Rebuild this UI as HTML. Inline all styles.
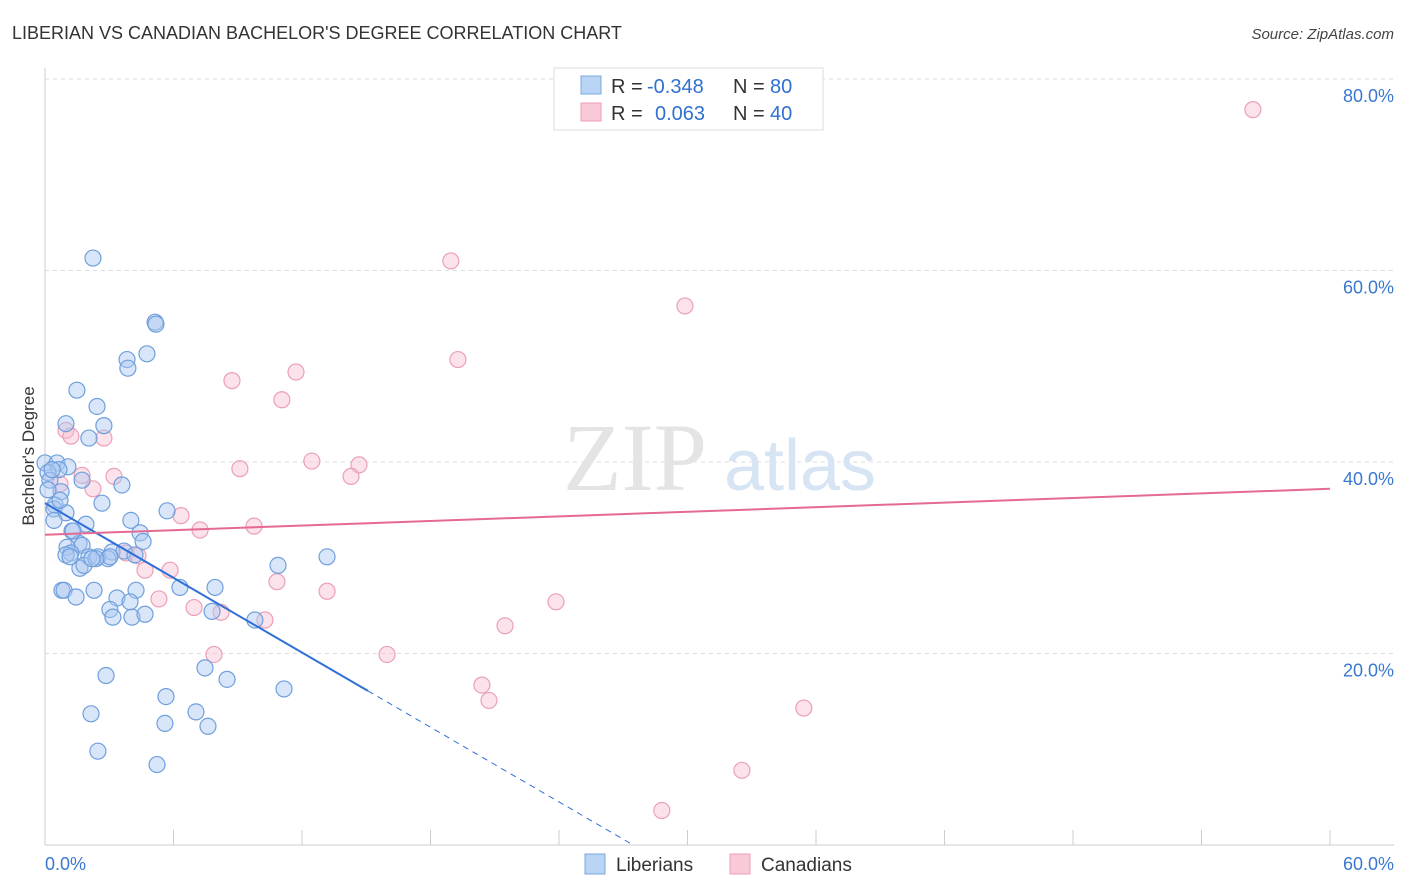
<!DOCTYPE html>
<html><head><meta charset="utf-8">
<style>
body{margin:0;background:#fff;font-family:"Liberation Sans",sans-serif;}
svg{display:block}
</style></head>
<body>
<svg id="chart" width="1406" height="892" viewBox="0 0 1406 892" xmlns="http://www.w3.org/2000/svg">
<text x="12" y="39" font-size="18" fill="#333" font-family="Liberation Sans, sans-serif">LIBERIAN VS CANADIAN BACHELOR'S DEGREE CORRELATION CHART</text>
<text x="1394" y="39" font-size="15" fill="#444" text-anchor="end" font-style="italic" font-family="Liberation Sans, sans-serif">Source: ZipAtlas.com</text>
<g id="grid"></g>
<g>
<text x="635" y="490" font-size="96" fill="#e4e4e4" text-anchor="middle" font-family="Liberation Serif, serif">ZIP</text>
<text x="800" y="490" font-size="72" fill="#d6e4f4" text-anchor="middle" font-family="Liberation Sans, sans-serif">atlas</text>
</g>
<g id="axes"></g>
<g id="marks"></g>
<text transform="translate(34,456) rotate(-90)" font-size="17" fill="#333" text-anchor="middle" font-family="Liberation Sans, sans-serif">Bachelor's Degree</text>
<g font-size="20">
<rect x="554" y="68" width="269" height="62" fill="#fff" stroke="#ddd"/>
<rect x="581" y="76" width="20" height="18" fill="#b9d4f5" stroke="#7aa8e0"/>
<rect x="581" y="103" width="20" height="18" fill="#f8c9d6" stroke="#eba0b6"/>
<text x="611" y="93" fill="#333">R =</text>
<text x="647" y="93" fill="#3070d0">-0.348</text>
<text x="733" y="93" fill="#333">N =</text>
<text x="770" y="93" fill="#3070d0">80</text>
<text x="611" y="120" fill="#333">R =</text>
<text x="655" y="120" fill="#3070d0">0.063</text>
<text x="733" y="120" fill="#333">N =</text>
<text x="770" y="120" fill="#3070d0">40</text>
</g>
<g>
<rect x="585" y="854" width="20" height="20" fill="#b9d4f5" stroke="#7aa8e0"/>
<text x="616" y="871" font-size="19" fill="#333">Liberians</text>
<rect x="730" y="854" width="20" height="20" fill="#f8c9d6" stroke="#eba0b6"/>
<text x="761" y="871" font-size="19" fill="#333">Canadians</text>
</g>
</svg>
<script>
const blueX=[2.24,5.14,5.18,4.76,3.83,3.87,1.49,2.43,0.98,2.75,2.05,0,0.56,1.07,0.65,0.14,1.73,3.59,0.23,0.75,2.66,0.47,5.70,0.42,0.98,0.42,4.01,1.91,1.26,4.44,4.58,1.59,1.03,1.73,1.21,0.98,2.05,2.47,3.13,3.69,4.20,2.94,13.17,10.88,1.63,1.82,0.79,0.89,1.45,2.29,4.25,7.94,6.30,3.36,3.97,3.03,3.17,4.06,4.67,7.80,9.80,2.85,7.47,8.50,5.65,11.16,2.15,7.05,5.60,7.61,2.47,5.23,1.31,0.70,0.33,3.03,1.17,2.38,2.19,0.14];
const blueY=[61.3,54.6,54.4,51.3,50.7,49.8,47.5,45.8,44.0,43.8,42.5,39.9,39.9,39.5,39.2,38.9,38.1,37.6,38.1,36.9,35.7,35.5,34.9,35.1,34.7,33.9,33.9,33.5,32.8,32.6,31.7,31.5,31.1,31.3,30.5,30.3,30.1,30.1,30.6,30.7,30.3,29.9,30.1,29.2,28.9,29.2,26.6,26.6,25.9,26.6,26.6,26.9,26.9,25.8,25.4,24.6,23.8,23.8,24.1,24.4,23.5,17.7,18.5,17.3,15.5,16.3,13.7,13.9,12.7,12.4,9.8,8.4,32.8,36.0,39.2,30.1,30.1,29.9,29.9,37.1];
const pinkX=[56.4,18.95,29.88,19.28,11.72,8.73,11.06,0.98,2.75,1.21,12.46,9.10,14.66,14.29,1.73,3.22,0.70,2.24,6.35,9.76,7.24,3.78,4.34,4.67,5.84,10.83,13.17,5.32,6.96,8.22,10.27,23.86,21.48,15.97,7.89,20.40,20.73,35.43,32.54,28.80];
const pinkY=[76.8,61.0,56.3,50.7,49.4,48.5,46.5,43.3,42.5,42.7,40.1,39.3,39.7,38.5,38.6,38.5,37.7,37.2,34.4,33.3,32.9,30.5,30.2,28.7,28.7,27.5,26.5,25.7,24.8,24.3,23.5,25.4,22.9,19.9,19.9,16.7,15.1,14.3,7.8,3.6];
const yTicks=[20,40,60,80];
const yTickLabels=["20.0%","40.0%","60.0%","80.0%"];
const xTicks=[0,6,12,18,24,30,36,42,48,54,60];
const blueLine=[35.7,-1.300]; // intercept, slope
const blueSolidEnd=15.08;
const pinkLine=[32.4,0.08];

const NS="http://www.w3.org/2000/svg";
const X0=45,X1=1330,Y0=845,YPer=9.575;
const sx=v=>X0+(v/60)*(X1-X0);
const sy=v=>Y0-v*YPer;
function mk(tag,attrs,parent){const e=document.createElementNS(NS,tag);for(const k in attrs)e.setAttribute(k,attrs[k]);parent.appendChild(e);return e;}
const grid=document.getElementById('grid'),axes=document.getElementById('axes'),marks=document.getElementById('marks');
yTicks.forEach((t,i)=>{
  const l=mk('line',{x1:X0,x2:1394,y1:sy(t),y2:sy(t),stroke:'#ddd','stroke-dasharray':'4,4'},grid);
  
  
  const tx=mk('text',{x:1394,y:sy(t)+23,'font-size':18,fill:'#3a78d0','text-anchor':'end'},axes);
  tx.textContent=yTickLabels[i];
  
  
});
const ax=mk('line',{x1:X0,x2:1394,y1:Y0,y2:Y0,stroke:'#ccc'},axes);


const ay=mk('line',{x1:X0,x2:X0,y1:68,y2:Y0,stroke:'#ccc'},axes);


xTicks.forEach(t=>{
  const l=mk('line',{x1:sx(t),x2:sx(t),y1:Y0-15,y2:Y0,stroke:'#ccc'},axes);
  
  
});
const xl=mk('text',{x:45,y:870,'font-size':18,fill:'#3a78d0'},axes);xl.textContent="0.0%";


const xr=mk('text',{x:1394,y:870,'font-size':18,fill:'#3a78d0','text-anchor':'end'},axes);xr.textContent="60.0%";



pinkX.forEach((x,i)=>{
  const c=mk('circle',{cx:sx(x),cy:sy(pinkY[i]),r:8,fill:'rgba(248,190,208,0.45)',stroke:'#eba0b6','stroke-width':1.2},marks);
  
  
});
blueX.forEach((x,i)=>{
  const c=mk('circle',{cx:sx(x),cy:sy(blueY[i]),r:8,fill:'rgba(170,200,242,0.45)',stroke:'#6f9fdc','stroke-width':1.2},marks);
  
  
});
const bf=x=>blueLine[0]+blueLine[1]*x;
const zeroX=-blueLine[0]/blueLine[1];
const b1=mk('line',{x1:sx(0),y1:sy(bf(0)),x2:sx(blueSolidEnd),y2:sy(bf(blueSolidEnd)),stroke:'#2f6fd6','stroke-width':2},marks);


const b2=mk('line',{x1:sx(blueSolidEnd),y1:sy(bf(blueSolidEnd)),x2:sx(zeroX),y2:sy(0),stroke:'#2f6fd6','stroke-width':1,'stroke-dasharray':'6,5'},marks);


const pf=x=>pinkLine[0]+pinkLine[1]*x;
const p1=mk('line',{x1:sx(0),y1:sy(pf(0)),x2:sx(60),y2:sy(pf(60)),stroke:'#e46a93','stroke-width':2},marks);


</script>
</body></html>
